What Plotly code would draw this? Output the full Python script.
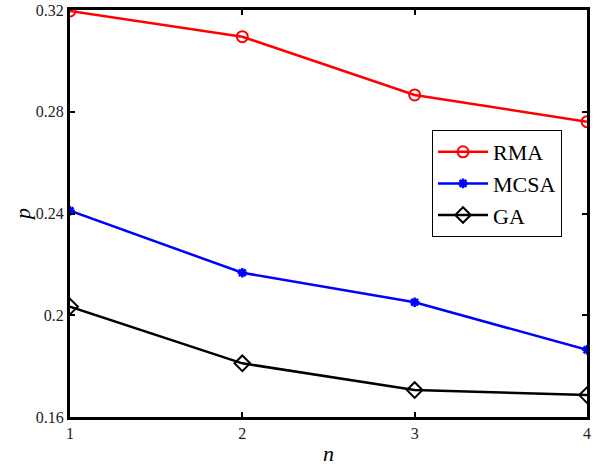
import plotly.graph_objects as go

n_vals = [1, 2, 3, 4]
rma = [0.3196, 0.3095, 0.2866, 0.2761]
mcsa = [0.2411, 0.2167, 0.2051, 0.1864]
ga = [0.2034, 0.1811, 0.1706, 0.1686]
y_ticks = [0.16, 0.2, 0.24, 0.28, 0.32]
y_tick_labels = ["0.16", "0.2", "0.24", "0.28", "0.32"]

FONT = "Liberation Serif, Times New Roman, serif"

fig = go.Figure()
fig.add_trace(go.Scatter(x=n_vals, y=rma, name="RMA", mode="lines+markers",
                         line=dict(color="#ff0000", width=2.5),
                         marker=dict(symbol="circle-open", size=11, color="#ff0000",
                                     line=dict(width=2, color="#ff0000"))))
fig.add_trace(go.Scatter(x=n_vals, y=mcsa, name="MCSA", mode="lines+markers",
                         line=dict(color="#0000ff", width=2.5),
                         marker=dict(symbol="asterisk-open", size=8, color="#0000ff",
                                     line=dict(width=2.5, color="#0000ff"))))
fig.add_trace(go.Scatter(x=n_vals, y=ga, name="GA", mode="lines+markers",
                         line=dict(color="#000000", width=2.5),
                         marker=dict(symbol="diamond-open", size=12, color="#000000",
                                     line=dict(width=2, color="#000000"))))

# pixel positions of the plot area and of free texts
pl, pr, pt, pb = 70, 587, 10, 417


def px_x(v):
    return (v - pl) / (pr - pl)


def px_y(v):
    return (pb - v) / (pb - pt)


fig.update_layout(
    width=600, height=466,
    margin=dict(l=pl, r=600 - pr, t=pt, b=466 - pb, autoexpand=False),
    paper_bgcolor="white", plot_bgcolor="white",
    font=dict(family=FONT, size=16, color="#222"),
    showlegend=True,
    legend=dict(x=px_x(432), y=px_y(130), xanchor="left", yanchor="top",
                bordercolor="black", borderwidth=1, bgcolor="white",
                font=dict(family=FONT, size=22, color="black"),
                itemwidth=50, tracegroupgap=0),
    annotations=[
        dict(text="<i>p</i>", x=px_x(22), y=px_y(215), xref="paper", yref="paper",
             showarrow=False, xanchor="center", yanchor="middle",
             font=dict(family=FONT, size=22, color="black"), textangle=-90),
        dict(text="<i>n</i>", x=px_x(328), y=px_y(453), xref="paper", yref="paper",
             showarrow=False, xanchor="center", yanchor="middle",
             font=dict(family=FONT, size=22, color="black")),
    ],
)

fig.update_xaxes(range=[1, 4], tickvals=n_vals, ticktext=[str(v) for v in n_vals],
                 showgrid=False, zeroline=False, showline=True, linecolor="black",
                 linewidth=3, mirror="allticks", ticks="inside", ticklen=5,
                 tickwidth=2, tickcolor="black", automargin=False)
fig.update_yaxes(range=[0.16, 0.32], tickvals=y_ticks, ticktext=y_tick_labels,
                 showgrid=False, zeroline=False, showline=True, linecolor="black",
                 linewidth=3, mirror="allticks", ticks="inside", ticklen=5,
                 tickwidth=2, tickcolor="black", automargin=False)

fig.write_html("out.html", config={"displayModeBar": False},
               post_script="document.body.style.margin='0';")
